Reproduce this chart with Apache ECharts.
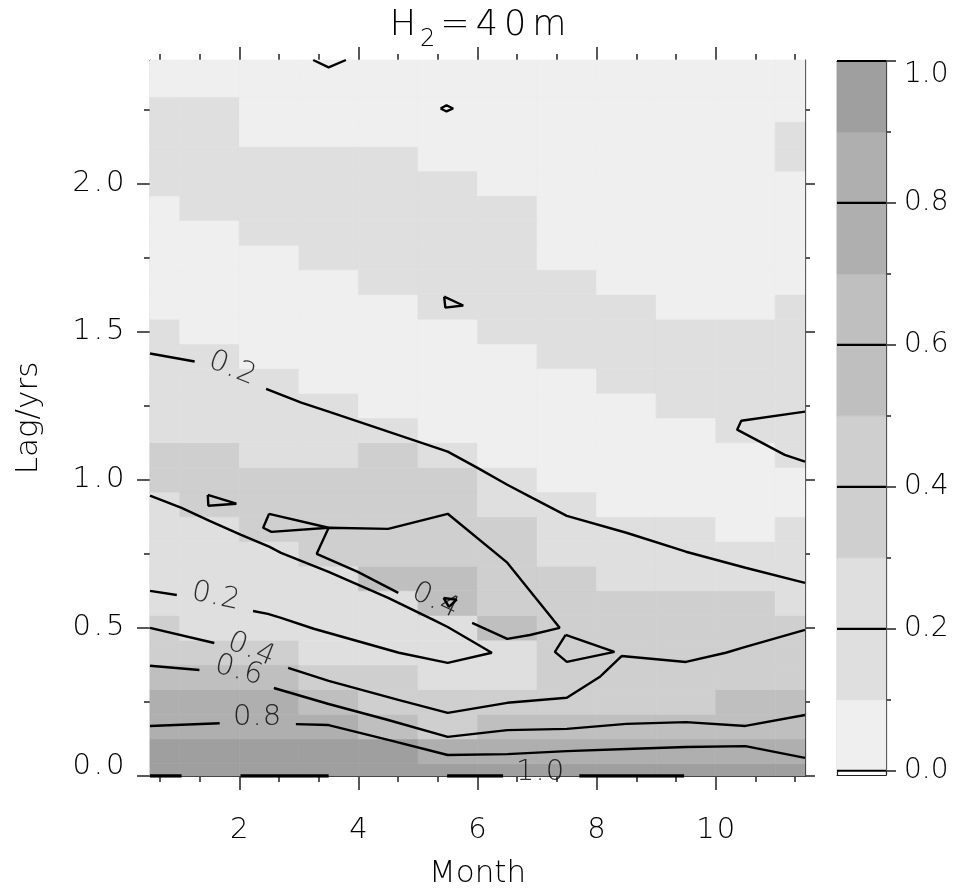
<!DOCTYPE html>
<html>
<head>
    <meta charset="utf-8" />
    <title>H2=40m lag correlation</title>
    <script src="https://cdn.jsdelivr.net/npm/echarts@6/dist/echarts.min.js"></script>
    <style>html,body{margin:0;padding:0;background:#fff;}</style>
</head>
<body>
<div id="main" style="width:956px;height:892px;"></div>
<script type="text/javascript">
    // cell centres: months (x) and lag in months (y, shown in years)
    var months = [0.5, 1.5, 2.5, 3.5, 4.5, 5.5, 6.5, 7.5, 8.5, 9.5, 10.5, 11.5];
    var lagMonths = [0, 1, 2, 3, 4, 5, 6, 7, 8, 9, 10, 11, 12, 13, 14, 15, 16, 17, 18, 19,
                     20, 21, 22, 23, 24, 25, 26, 27, 28, 29];

    // correlation, one row per lag (bottom row = lag 0), one column per month
    var corr = [
        [.95, .95, .95, .95, .95, .95, .95, .95, .95, .95, .95, .95],
        [.95, .95, .95, .95, .95, .8, .8, .8, .8, .8, .8, .8],
        [.8, .8, .8, .8, .6, .4, .6, .6, .6, .6, .6, .6],
        [.8, .8, .8, .6, .4, .4, .4, .4, .4, .4, .6, .6],
        [.6, .6, .6, .4, .4, .2, .2, .4, .4, .4, .4, .4],
        [.4, .4, .4, .2, .2, .2, .2, .4, .4, .4, .4, .4],
        [.4, .2, .2, .2, .2, .2, .6, .4, .4, .4, .4, .4],
        [.2, .2, .2, .2, .2, .6, .4, .4, .4, .4, .4, .2],
        [.2, .2, .2, .2, .6, .6, .4, .4, .2, .2, .2, .2],
        [.2, .2, .2, .4, .4, .4, .4, .2, .2, .2, .2, .2],
        [.2, .2, .4, .4, .4, .4, .4, .2, .2, .2, .05, .2],
        [.2, .4, .4, .4, .4, .4, .2, .2, .05, .05, .05, .05],
        [.4, .4, .4, .4, .4, .4, .2, .05, .05, .05, .05, .05],
        [.4, .4, .2, .2, .4, .2, .05, .05, .05, .05, .05, .2],
        [.2, .2, .2, .2, .2, .05, .05, .05, .05, .05, .2, .2],
        [.2, .2, .2, .2, .05, .05, .05, .05, .05, .2, .2, .2],
        [.2, .2, .2, .05, .05, .05, .05, .05, .2, .2, .2, .2],
        [.2, .2, .05, .05, .05, .05, .05, .2, .2, .2, .2, .2],
        [.2, .05, .05, .05, .05, .05, .2, .2, .2, .2, .2, .2],
        [.05, .05, .05, .05, .05, .2, .2, .2, .2, .05, .05, .2],
        [.05, .05, .05, .05, .2, .2, .2, .2, .05, .05, .05, .05],
        [.05, .05, .05, .2, .2, .2, .2, .05, .05, .05, .05, .05],
        [.05, .05, .2, .2, .2, .2, .2, .05, .05, .05, .05, .05],
        [.05, .2, .2, .2, .2, .2, .2, .05, .05, .05, .05, .05],
        [.2, .2, .2, .2, .2, .2, .05, .05, .05, .05, .05, .05],
        [.2, .2, .2, .2, .2, .05, .05, .05, .05, .05, .05, .2],
        [.2, .2, .05, .05, .05, .05, .05, .05, .05, .05, .05, .2],
        [.2, .2, .05, .05, .05, .05, .05, .05, .05, .05, .05, .05],
        [.05, .05, .05, .05, .05, .05, .05, .05, .05, .05, .05, .05],
        [.05, .05, .05, .05, .05, .05, .05, .05, .05, .05, .05, .05]
    ];

    // colour scale (10 bands, shades come in pairs)
    var bandEdges = [0, 0.1, 0.2, 0.3, 0.4, 0.5, 0.6, 0.7, 0.8, 0.9, 1.0];
    var bandColors = ['#efefef', '#dfdfdf', '#dfdfdf', '#cfcfcf', '#cfcfcf',
                      '#bfbfbf', '#bfbfbf', '#afafaf', '#afafaf', '#9f9f9f'];
    var barLevels = [0, 0.2, 0.4, 0.6, 0.8, 1.0];

    // tick values
    var majorMonths = [2, 4, 6, 8, 10];
    var minorMonths = [0.667, 1.333, 2.667, 3.333, 4.667, 5.333, 6.667, 7.333, 8.667, 9.333, 10.667, 11.333];
    var majorLags = [0, 0.5, 1.0, 1.5, 2.0];
    var minorLags = [0.25, 0.75, 1.25, 1.75, 2.25];
    var barMajor = [0, 0.2, 0.4, 0.6, 0.8, 1.0];
    var barMinor = [0.1, 0.3, 0.5, 0.7, 0.9];

    // contour lines: [month, lag/yrs]
    var c02upperA = [[0.5, 1.426], [1.25, 1.399]];
    var c02upperB = [[2.45, 1.307], [3.04, 1.26], [3.5, 1.23], [4.5, 1.162], [5.5, 1.095], [6.0, 1.04],
                     [6.5, 0.983], [6.88, 0.943], [7.5, 0.878], [8.5, 0.821], [9.5, 0.757], [10.5, 0.703], [11.5, 0.652]];
    var c02lobeA = [[0.5, 0.946], [1.03, 0.905], [1.5, 0.861], [2.03, 0.814], [2.5, 0.774], [2.7, 0.753],
                    [3.5, 0.689], [4.5, 0.601], [5.26, 0.527], [5.5, 0.503], [6.24, 0.416], [5.5, 0.382],
                    [4.68, 0.416], [3.25, 0.497], [2.7, 0.534], [2.48, 0.547], [2.23, 0.557]];
    var c02lobeB = [[0.95, 0.611], [0.5, 0.625]];
    var c02right = [[11.5, 1.23], [10.43, 1.199], [10.36, 1.169], [11.16, 1.084], [11.5, 1.061]];
    var loopTop = [[3.24, 2.4167], [3.5, 2.392], [3.79, 2.4167]];
    var loopDiamond = [[5.38, 2.253], [5.48, 2.264], [5.59, 2.253], [5.48, 2.243], [5.38, 2.253]];
    var loopTri = [[5.44, 1.618], [5.76, 1.588], [5.46, 1.581], [5.44, 1.618]];
    var loopLeft = [[1.47, 0.949], [1.95, 0.919], [1.48, 0.912], [1.47, 0.949]];
    var c04mid = [[4.67, 0.618], [3.99, 0.689], [3.3, 0.75], [3.5, 0.838], [4.5, 0.834], [5.5, 0.885],
                  [6.5, 0.72], [7.38, 0.5], [6.88, 0.476], [6.5, 0.463], [5.91, 0.517]];
    var loop04tri = [[2.5, 0.885], [2.4, 0.838], [2.54, 0.824], [3.5, 0.838], [2.5, 0.885]];
    var loop04small = [[5.43, 0.601], [5.65, 0.595], [5.52, 0.571], [5.43, 0.601]];
    var loop04right = [[7.48, 0.476], [8.3, 0.419], [7.5, 0.385], [7.3, 0.419], [7.48, 0.476]];
    var c04lowA = [[0.5, 0.5], [1.58, 0.449]];
    var c04lowB = [[2.82, 0.365], [3.5, 0.321], [4.67, 0.257], [5.5, 0.213], [6.5, 0.247], [7.5, 0.264],
                   [8.05, 0.334], [8.42, 0.405], [9.5, 0.385], [10.17, 0.416], [10.5, 0.436], [11.5, 0.493]];
    var c06A = [[0.5, 0.372], [1.33, 0.358]];
    var c06B = [[2.58, 0.297], [3.5, 0.243], [4.5, 0.189], [5.5, 0.132], [6.5, 0.155], [7.5, 0.159],
                [8.5, 0.176], [9.5, 0.182], [10.5, 0.169], [11.5, 0.206]];
    var c08A = [[0.5, 0.169], [1.67, 0.178]];
    var c08B = [[2.95, 0.175], [3.5, 0.172], [4.5, 0.122], [5.5, 0.071], [6.5, 0.074], [7.5, 0.084],
                [8.5, 0.091], [9.5, 0.098], [10.5, 0.101], [11.5, 0.061]];
    var c10segs = [[[0.5, 0], [1.03, 0]], [[2.02, 0], [3.5, 0]], [[5.49, 0], [6.43, 0]], [[7.71, 0], [9.47, 0]]];

    // contour labels: text, month, lag, rotation
    var contourLabels = [
        ['0.2', 1.88, 1.375, -22],
        ['0.2', 1.6, 0.605, -12],
        ['0.4', 2.2, 0.426, -22],
        ['0.6', 1.99, 0.355, -15],
        ['0.8', 2.3, 0.196, 0],
        ['0.4', 5.29, 0.591, -25],
        ['1.0', 7.05, 0.012, 0]
    ];

    var font = "'DejaVu Sans', sans-serif";
    var ink = '#000';

    // the original lettering is widely spaced: wrap every character in a padded token
    function spaced(s) {
        return String(s).split('').map(function (ch) { return '{d|' + ch + '}'; }).join('');
    }
    function spacedRich(size, lh, pad) {
        return {d: {fontSize: size, fontFamily: font, fontWeight: 200, color: ink,
                    padding: [0, pad, 0, pad], lineHeight: lh}};
    }

    function colorFor(v) {
        var i = Math.floor(v * 10);
        if (i < 0) i = 0;
        if (i > 9) i = 9;
        return bandColors[i];
    }

    var cells = [];
    for (var r = 0; r < lagMonths.length; r++) {
        for (var c = 0; c < months.length; c++) {
            cells.push([months[c], lagMonths[r] / 12, corr[r][c]]);
        }
    }

    var bands = [];
    for (var b = 0; b < bandColors.length; b++) {
        bands.push([bandEdges[b], bandEdges[b + 1], b]);
    }

    function clipTo(rect, params) {
        return echarts.graphic.clipRectByRect(rect, {
            x: params.coordSys.x, y: params.coordSys.y,
            width: params.coordSys.width, height: params.coordSys.height
        });
    }

    function tickAxis(o) {
        // helper for the many tick-only axes around the frames
        return {
            type: 'value', gridIndex: o.grid, position: o.pos, offset: 0,
            min: o.min, max: o.max,
            axisLine: {show: !!o.line, onZero: false, lineStyle: {color: '#222', width: 1.2}},
            axisTick: o.ticks ? {show: true, inside: false, length: o.len, customValues: o.ticks,
                                 lineStyle: {color: '#222', width: 1.5}} : {show: false},
            axisLabel: {show: false},
            splitLine: {show: false}
        };
    }

    var myChart = echarts.init(document.getElementById('main'));

    var series = [{
        type: 'custom',
        xAxisIndex: 0, yAxisIndex: 0,
        silent: true, z: 1,
        data: cells,
        renderItem: function (params, api) {
            var x = api.value(0), y = api.value(1), v = api.value(2);
            var p0 = api.coord([x - 0.5, y + 1 / 24]);
            var p1 = api.coord([x + 0.5, y - 1 / 24]);
            var rect = clipTo({x: p0[0], y: p0[1], width: p1[0] - p0[0], height: p1[1] - p0[1]}, params);
            return rect && {type: 'rect', shape: rect,
                style: {fill: colorFor(v), stroke: colorFor(v), lineWidth: 0.6}};
        }
    }];

    var lines = [c02upperA, c02upperB, c02lobeA, c02lobeB, c02right, loopTop, loopDiamond, loopTri, loopLeft,
                 c04mid, loop04tri, loop04small, loop04right, c04lowA, c04lowB, c06A, c06B, c08A, c08B];
    lines.forEach(function (seg) {
        series.push({
            type: 'line', xAxisIndex: 0, yAxisIndex: 0, silent: true, z: 3,
            symbol: 'none', data: seg,
            lineStyle: {color: '#000', width: 2.4}
        });
    });
    c10segs.forEach(function (seg) {
        series.push({
            type: 'line', xAxisIndex: 0, yAxisIndex: 0, silent: true, z: 3,
            symbol: 'none', data: seg,
            lineStyle: {color: '#000', width: 3.5}
        });
    });

    series.push({
        type: 'scatter', xAxisIndex: 0, yAxisIndex: 0, silent: true, z: 4,
        symbolSize: 1, itemStyle: {color: 'rgba(0,0,0,0)'},
        label: {show: true, position: 'inside',
                formatter: function (p) { return spaced(p.name); },
                rich: spacedRich(29, 30, 0.5)},
        data: contourLabels.map(function (d) {
            return {name: d[0], value: [d[1], d[2]], label: {rotate: d[3]}};
        })
    });

    // colour bar
    series.push({
        type: 'custom', xAxisIndex: 4, yAxisIndex: 4, silent: true, z: 1,
        data: bands,
        renderItem: function (params, api) {
            var p0 = api.coord([0, api.value(1)]);
            var p1 = api.coord([1, api.value(0)]);
            var c = bandColors[api.value(2)];
            var rect = clipTo({x: p0[0], y: p0[1], width: p1[0] - p0[0], height: p1[1] - p0[1]}, params);
            return rect && {type: 'rect', shape: rect, style: {fill: c, stroke: c, lineWidth: 0.6}};
        }
    });
    barLevels.forEach(function (v) {
        series.push({
            type: 'line', xAxisIndex: 4, yAxisIndex: 4, silent: true, z: 3,
            symbol: 'none', data: [[0, v], [1, v]],
            lineStyle: {color: '#000', width: 2.2}
        });
    });

    var lagMax = 29 / 12;
    var barMin = -0.006;

    var option = {
        animation: false,
        backgroundColor: '#fff',
        title: {
            text: '{a|H}{s|2}{a|=}{a|4}{a|0}{a|m}',
            left: 'center', top: 0, padding: 0,
            textStyle: {
                rich: {
                    a: {fontSize: 35, fontFamily: font, fontWeight: 200, color: ink, padding: [0, 3, 0, 3]},
                    s: {fontSize: 24, fontFamily: font, fontWeight: 200, color: ink, padding: [28, 2, 0, 1]}
                }
            }
        },
        grid: [
            {left: 150, top: 60, width: 655, height: 716, containLabel: false, outerBoundsMode: 'none'},
            {left: 837, top: 61, width: 49, height: 714, containLabel: false, outerBoundsMode: 'none'}
        ],
        xAxis: [
            {
                type: 'value', gridIndex: 0, position: 'bottom', offset: 0, min: 0.5, max: 11.5,
                axisLine: {show: true, onZero: false, lineStyle: {color: '#222', width: 1.2}},
                axisTick: {show: true, inside: false, length: 14, customValues: majorMonths,
                           lineStyle: {color: '#222', width: 1.5}},
                axisLabel: {show: true, customValues: majorMonths, margin: 39,
                            formatter: function (v) { return spaced(v); },
                            rich: spacedRich(29, 30, 1)},
                splitLine: {show: false},
                name: 'Month', nameLocation: 'middle', nameGap: 82, nameMoveOverlap: false,
                nameTextStyle: {fontSize: 31, fontFamily: font, fontWeight: 200, color: ink}
            },
            tickAxis({grid: 0, pos: 'bottom', min: 0.5, max: 11.5, ticks: minorMonths, len: 6}),
            tickAxis({grid: 0, pos: 'top', min: 0.5, max: 11.5, ticks: majorMonths, len: 13, line: true}),
            tickAxis({grid: 0, pos: 'top', min: 0.5, max: 11.5, ticks: minorMonths, len: 6}),
            tickAxis({grid: 1, pos: 'bottom', min: 0, max: 1, line: true}),
            tickAxis({grid: 1, pos: 'top', min: 0, max: 1, line: true})
        ],
        yAxis: [
            {
                type: 'value', gridIndex: 0, position: 'left', offset: 0, min: 0, max: lagMax,
                axisLine: {show: true, onZero: false, lineStyle: {color: '#222', width: 1.2}},
                axisTick: {show: true, inside: false, length: 13, customValues: majorLags,
                           lineStyle: {color: '#222', width: 1.5}},
                axisLabel: {show: true, customValues: majorLags, margin: 24,
                            verticalAlignMinLabel: 'bottom',
                            formatter: function (v) { return spaced(v.toFixed(1)); },
                            rich: spacedRich(29, 20, 1.5)},
                splitLine: {show: false},
                name: 'Lag/yrs', nameLocation: 'middle', nameGap: 106, nameRotate: 90, nameMoveOverlap: false,
                nameTextStyle: {fontSize: 31, fontFamily: font, fontWeight: 200, color: ink}
            },
            tickAxis({grid: 0, pos: 'left', min: 0, max: lagMax, ticks: minorLags, len: 6}),
            tickAxis({grid: 0, pos: 'right', min: 0, max: lagMax, ticks: majorLags, len: 10, line: true}),
            tickAxis({grid: 0, pos: 'right', min: 0, max: lagMax, ticks: minorLags, len: 5}),
            tickAxis({grid: 1, pos: 'left', min: barMin, max: 1, line: true}),
            {
                type: 'value', gridIndex: 1, position: 'right', offset: 0, min: barMin, max: 1,
                axisLine: {show: true, onZero: false, lineStyle: {color: '#222', width: 1.2}},
                axisTick: {show: true, inside: false, length: 10, customValues: barMajor,
                           lineStyle: {color: '#222', width: 1.5}},
                axisLabel: {show: true, customValues: barMajor, margin: 18,
                            verticalAlignMaxLabel: 'top',
                            formatter: function (v) { return spaced(v.toFixed(1)); },
                            rich: spacedRich(28, 28, 0)},
                splitLine: {show: false}
            },
            tickAxis({grid: 1, pos: 'right', min: barMin, max: 1, ticks: barMinor, len: 5})
        ],
        series: series
    };

    myChart.setOption(option);
</script>
</body>
</html>
